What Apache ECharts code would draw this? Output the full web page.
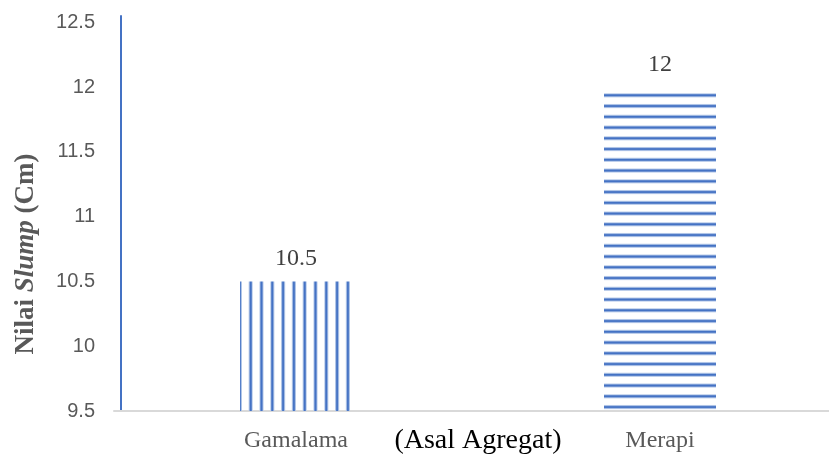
<!DOCTYPE html>
<html>
<head>
<meta charset="utf-8">
<style>
  html, body { margin: 0; padding: 0; background: #ffffff; }
  #chart { width: 829px; height: 457px; }
</style>
<script src="https://cdn.jsdelivr.net/npm/echarts@6/dist/echarts.min.js"></script>
</head>
<body>
<div id="chart"></div>
<script>
// Slump values by aggregate origin
const categories = ['Gamalama', 'Merapi'];
const slumpValues = [10.5, 12];
const yTicks = { min: 9.5, max: 12.5, step: 0.5 };

// Striped fills: vertical lines for the first bar, horizontal for the second
function stripePattern(vertical, period, count, phase) {
  const len = Math.round(period * count);
  const c = document.createElement('canvas');
  c.width = vertical ? len : 4;
  c.height = vertical ? 4 : len;
  const ctx = c.getContext('2d');
  const draw = (center) => {
    [[4.2, '#bfd0ec'], [2.6, '#7f9fd6'], [1.6, '#4472c4']].forEach(([w, col]) => {
      ctx.fillStyle = col;
      if (vertical) ctx.fillRect(center - w / 2, 0, w, c.height);
      else ctx.fillRect(0, center - w / 2, c.width, w);
    });
  };
  for (let k = 0; k < count; k++) {
    const cen = phase + k * (len / count);
    draw(cen); draw(cen - len); draw(cen + len);
  }
  return { image: c, repeat: 'repeat' };
}

const vPattern = stripePattern(true, 10.8, 5, 2.3);
const hPattern = stripePattern(false, 10.75, 4, 9.3);

const chart = echarts.init(document.getElementById('chart'), null, { renderer: 'canvas' });

chart.setOption({
  animation: false,
  backgroundColor: '#ffffff',
  grid: { left: 114, right: -13, top: 16, bottom: 46, containLabel: false, outerBoundsMode: 'none' },
  xAxis: {
    type: 'category',
    data: categories,
    name: '(Asal Agregat)',
    nameLocation: 'middle',
    nameGap: 16,
    nameMoveOverlap: false,
    nameTextStyle: {
      fontFamily: '"Liberation Serif", "Times New Roman", serif',
      fontSize: 28,
      color: '#000000',
      verticalAlign: 'top'
    },
    axisLine: { show: true, lineStyle: { color: '#d9d9d9', width: 2 } },
    axisTick: { show: false },
    axisLabel: {
      margin: 18,
      fontFamily: '"Liberation Serif", "Times New Roman", serif',
      fontSize: 24,
      color: '#595959'
    },
    splitLine: { show: false }
  },
  yAxis: {
    type: 'value',
    min: yTicks.min,
    max: yTicks.max + 0.05,
    interval: yTicks.step,
    offset: -7,
    axisLine: { show: true, lineStyle: { color: '#4472c4', width: 2 } },
    axisTick: { show: false },
    splitLine: { show: false },
    axisLabel: {
      margin: 26,
      showMaxLabel: false,
      fontFamily: '"Liberation Sans", Arial, sans-serif',
      fontSize: 20,
      color: '#595959',
      formatter: (v) => String(Math.round(v * 10) / 10)
    }
  },
  graphic: [{
    type: 'text',
    x: 26,
    y: 254,
    rotation: Math.PI / 2,
    style: {
      text: '{b|Nilai }{i|Slump}{b| (Cm)}',
      align: 'center',
      verticalAlign: 'middle',
      fill: '#595959',
      rich: {
        b: { fontFamily: '"Liberation Serif", "Times New Roman", serif', fontWeight: 'bold', fontSize: 27, fill: '#595959' },
        i: { fontFamily: '"Liberation Serif", "Times New Roman", serif', fontWeight: 'bold', fontStyle: 'italic', fontSize: 27, fill: '#595959' }
      }
    }
  }],
  series: [{
    type: 'bar',
    data: slumpValues.map((v, i) => ({
      value: v,
      itemStyle: { color: i === 0 ? vPattern : hPattern }
    })),
    barWidth: 112,
    label: {
      show: true,
      position: 'top',
      distance: 11,
      fontFamily: '"Liberation Serif", "Times New Roman", serif',
      fontSize: 24,
      color: '#404040'
    }
  }]
});
</script>
</body>
</html>
